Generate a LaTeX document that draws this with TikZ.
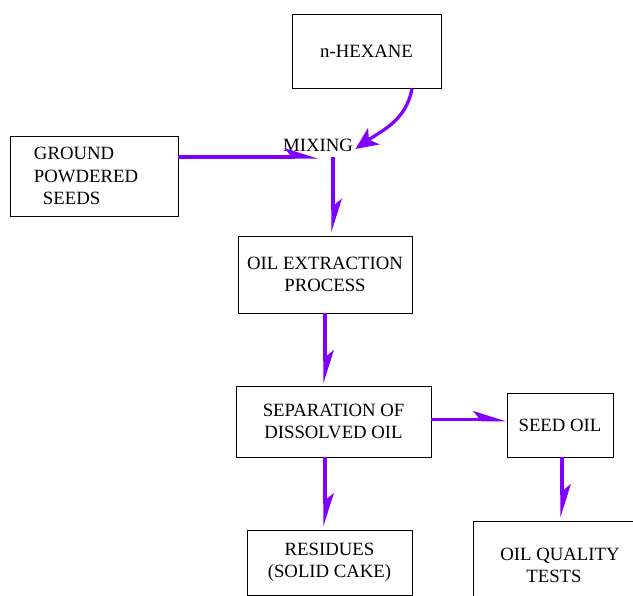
\documentclass[tikz,border=0pt]{standalone}
\usepackage{fontspec}
\setmainfont{Liberation Serif}
\usepackage{tikz}
\usetikzlibrary{arrows.meta}
\definecolor{flowpurple}{HTML}{7F00FF}
\tikzset{%
  flow/.style = {draw=flowpurple,line width=2.8pt,
        -{Stealth[harpoon,length=24pt,width=15pt,inset=6pt]}},
  bendflow/.style = {draw=flowpurple,line width=2.8pt,
        -{Stealth[length=19pt,width=17pt,inset=5pt]}},
  b/.style = {rectangle,draw,thick,align=center,inner sep=0pt}
}

\begin{document}
\begin{tikzpicture}[x=0.03cm,y=-0.03cm]
                    \fontsize{16}{19}\selectfont
                    \useasboundingbox (0,0) rectangle (633,596);
                    \node[b,minimum width=4.47cm,minimum height=2.22cm] (hex) at (366.5,51) {n-HEXANE};
                    \node[inner sep=2pt] (mix) at (318,145) {MIXING};
                    \node[b,align=left,text width=3.6cm,minimum width=5.04cm,
                          minimum height=2.4cm,inner xsep=0.72cm] (grd) at (94,176)
                          {GROUND\\POWDERED\\\hspace{0.27cm}SEEDS};
                    \node[b,minimum width=5.22cm,minimum height=2.31cm] (ext) at (325,274.5) {OIL EXTRACTION\\PROCESS};
                    \node[b,minimum width=5.85cm,minimum height=2.13cm] (sep) at (333.5,421.5) {SEPARATION OF\\DISSOLVED OIL};
                    \node[b,minimum width=3.18cm,minimum height=1.92cm] (seed) at (560,425) {SEED OIL};
                    \node[b,minimum width=4.95cm,minimum height=1.95cm] (res) at (329.5,562.5) {RESIDUES\\(SOLID CAKE)};
                    \node[b,align=left,minimum width=5.22cm,minimum height=2.67cm] (tst) at (560,565.5)
                          {OIL QUALITY\\\hspace{0.78cm}TESTS};

                    \draw[bendflow] ([xshift=1.365cm]hex.south) to[out=-100,in=35] ([yshift=-0.12cm]mix.east);
                    \draw[flow] ([yshift=0.57cm]grd.east) -- ([yshift=0.57cm]grd.east -| mix.center);
                    \draw[flow] ([xshift=0.45cm,yshift=-0.1cm]mix.south) -- ([xshift=0.45cm,yshift=0.1cm]mix.south |- ext.north);
                    \draw[flow] (ext.south) -- ([yshift=0.06cm]ext.south |- sep.north);
                    \draw[flow] ([yshift=0.05cm]sep.east) -- ([yshift=0.05cm]sep.east -| seed.west);
                    \draw[flow] (sep.south -| ext.south) -- ([yshift=0.09cm]ext.south |- res.north);
                    \draw[flow] ([xshift=0.06cm]seed.south) -- ([xshift=0.06cm,yshift=0.09cm]seed.south |- tst.north);
                 \end{tikzpicture}
\end{document}
